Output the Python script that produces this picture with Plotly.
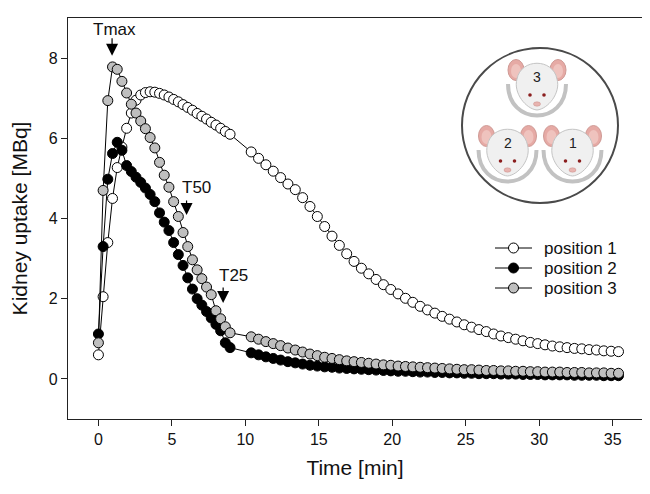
import plotly.graph_objects as go

# frame times [min]
time = [0, 0.32, 0.64, 0.96, 1.28, 1.6, 1.92, 2.24, 2.56, 2.88, 3.2, 3.52, 3.84, 4.16, 4.48,
        4.8, 5.12, 5.44, 5.76, 6.08, 6.4, 6.72, 7.04, 7.36, 7.68, 8.0, 8.32, 8.64, 8.96,
        10.4, 10.9, 11.4, 11.9, 12.4, 12.9, 13.4, 13.9, 14.4, 14.9, 15.4, 15.9, 16.4, 16.9,
        17.4, 17.9, 18.4, 18.9, 19.4, 19.9, 20.4, 20.9, 21.4, 21.9, 22.4, 22.9, 23.4, 23.9,
        24.4, 24.9, 25.4, 25.9, 26.4, 26.9, 27.4, 27.9, 28.4, 28.9, 29.4, 29.9, 30.4, 30.9,
        31.4, 31.9, 32.4, 32.9, 33.4, 33.9, 34.4, 34.9, 35.4]

# kidney uptake [MBq]
position_1 = [0.6, 2.05, 3.4, 4.5, 5.27, 5.78, 6.25, 6.63, 6.95, 7.08, 7.14, 7.16, 7.15, 7.12, 7.08,
              7.03, 6.97, 6.91, 6.84, 6.77, 6.7, 6.62, 6.55, 6.48, 6.4, 6.33, 6.25, 6.17, 6.1,
              5.66, 5.5, 5.34, 5.18, 5.02, 4.86, 4.72, 4.52, 4.3, 4.05, 3.8, 3.56, 3.33, 3.12,
              2.93, 2.76, 2.62, 2.48, 2.35, 2.23, 2.12, 2.01, 1.91, 1.81, 1.72, 1.64, 1.56, 1.49,
              1.42, 1.35, 1.29, 1.23, 1.18, 1.12, 1.07, 1.03, 0.99, 0.95, 0.91, 0.88, 0.85, 0.82,
              0.8, 0.78, 0.76, 0.75, 0.73, 0.72, 0.7, 0.69, 0.68]
position_2 = [1.12, 3.3, 4.98, 5.62, 5.9, 5.7, 5.32, 5.17, 5.03, 4.9, 4.76, 4.6, 4.42, 4.14, 3.91,
              3.7, 3.4, 3.1, 2.83, 2.52, 2.24, 2.0, 1.84, 1.68, 1.52, 1.36, 1.2, 0.9, 0.78,
              0.65, 0.6, 0.55, 0.51, 0.47, 0.43, 0.4, 0.37, 0.34, 0.32, 0.3, 0.29, 0.27, 0.26,
              0.25, 0.24, 0.23, 0.22, 0.21, 0.2, 0.19, 0.19, 0.18, 0.17, 0.17, 0.16, 0.16, 0.15,
              0.15, 0.14, 0.14, 0.13, 0.13, 0.13, 0.12, 0.12, 0.12, 0.11, 0.11, 0.11, 0.1, 0.1,
              0.1, 0.1, 0.09, 0.09, 0.09, 0.09, 0.08, 0.08, 0.08]
position_3 = [0.9, 4.7, 6.94, 7.78, 7.72, 7.42, 7.13, 6.85, 6.63, 6.43, 6.24, 6.02, 5.76, 5.4, 5.08,
              4.78, 4.42, 4.05, 3.65, 3.3, 2.97, 2.72, 2.5, 2.29, 2.1, 1.7, 1.5, 1.3, 1.15,
              1.05, 0.99, 0.93, 0.88, 0.83, 0.77, 0.72, 0.67, 0.62, 0.58, 0.54, 0.51, 0.48, 0.45,
              0.43, 0.41, 0.39, 0.37, 0.35, 0.34, 0.32, 0.31, 0.3, 0.29, 0.28, 0.27, 0.26, 0.25,
              0.24, 0.23, 0.23, 0.22, 0.21, 0.21, 0.2, 0.2, 0.19, 0.19, 0.18, 0.18, 0.17, 0.17,
              0.17, 0.16, 0.16, 0.16, 0.15, 0.15, 0.15, 0.14, 0.14]

series_names = ['position 1', 'position 2', 'position 3']
series_fill = ['white', 'black', '#bfbfbf']

# Tmax / T50 / T25 arrows (x, arrow tip y)
arrow_labels = ['Tmax', 'T50', 'T25']
arrow_x = [0.93, 6.0, 8.49]
arrow_y = [8.06, 4.09, 1.89]

FONT = 'Liberation Sans, Arial, sans-serif'
# the page body has an 8px margin, so the figure is 8px smaller than the window
W, H = 642, 486
L, R, T, B = 60, 8, 10, 75
PAGE = 8


# page pixel -> paper coords of the plot area
def xp(px):
    return (px - PAGE - L) / (W - L - R)


def yp(py):
    return (H - B - (py - PAGE)) / (H - T - B)


def path(start, curves, close=False):
    s = 'M %.4f,%.4f' % (xp(start[0]), yp(start[1]))
    for c in curves:
        s += ' C ' + ' '.join('%.4f,%.4f' % (xp(a), yp(b)) for a, b in c)
    if close:
        s += ' Z'
    return s


def circle(cx, cy, rx, ry, fill, line, lw=1):
    return dict(type='circle', xref='paper', yref='paper',
                x0=xp(cx - rx), x1=xp(cx + rx), y0=yp(cy + ry), y1=yp(cy - ry),
                fillcolor=fill, line=dict(color=line, width=lw))


def mouse(cx, cy):
    shapes = []
    # ears
    for s in (-1, 1):
        shapes.append(circle(cx + s * 21, cy - 17, 8, 10.5, '#e6aaa5', '#cf9a95'))
        shapes.append(circle(cx + s * 21, cy - 16, 5, 7, '#efc3be', '#efc3be', 0))
    # head
    shapes.append(dict(type='path', xref='paper', yref='paper',
                       path=path((cx - 20, cy - 8),
                                 [[(cx - 16, cy - 29), (cx + 16, cy - 29), (cx + 20, cy - 8)],
                                  [(cx + 24, cy + 6), (cx + 11, cy + 22), (cx, cy + 23)],
                                  [(cx - 11, cy + 22), (cx - 24, cy + 6), (cx - 20, cy - 8)]],
                                 close=True),
                       fillcolor='#f0f0f0', line=dict(color='#c4c4c4', width=1)))
    # eyes and nose
    for s in (-1, 1):
        shapes.append(circle(cx + s * 7, cy + 8, 1.8, 1.8, '#8b1e1e', '#8b1e1e', 0))
    shapes.append(circle(cx, cy + 17, 3.5, 2.2, '#e8b4b0', '#c98f8a', 0.5))
    # holder arc
    shapes.append(dict(type='path', xref='paper', yref='paper',
                       path=path((cx - 29, cy - 3),
                                 [[(cx - 29, cy + 39), (cx + 29, cy + 39), (cx + 29, cy - 3)]]),
                       line=dict(color='#c2c2c2', width=4)))
    return shapes


fig = go.Figure()
for name, vals, fill in zip(series_names, [position_1, position_2, position_3], series_fill):
    fig.add_trace(go.Scatter(
        x=time, y=vals, name=name, mode='lines+markers',
        line=dict(color='black', width=1),
        marker=dict(symbol='circle', size=10, color=fill, line=dict(color='black', width=1))
    ))

annotations = []
text_dx = [0.19, 0.69, 0.69]
text_dy = [0.66, 0.69, 0.7]
arrow_len = [-19, -16, -17]
for lab, ax_, ay_, dx, dy, ln in zip(arrow_labels, arrow_x, arrow_y, text_dx, text_dy, arrow_len):
    annotations.append(dict(x=ax_, y=ay_, text='', showarrow=True, ax=0, ay=ln,
                            arrowhead=2, arrowsize=2, arrowwidth=1.2, arrowcolor='black'))
    annotations.append(dict(x=ax_ + dx, y=ay_ + dy, text=lab, showarrow=False,
                            font=dict(family=FONT, size=17, color='#111')))

# mouse inset
shapes = [circle(540, 125.5, 78, 77.5, 'white', '#4a4a4a', 2)]
mice = [(537, 87, '3'), (507.5, 153, '2'), (572.5, 153, '1')]
for cx, cy, num in mice:
    shapes += mouse(cx, cy)
    annotations.append(dict(xref='paper', yref='paper', x=xp(cx), y=yp(cy - 10), text=num,
                            xanchor='center', yanchor='middle', showarrow=False,
                            font=dict(family=FONT, size=14, color='#222')))

# legend drawn by hand to match row spacing
legend_rows = [248, 268, 288]
for name, fill, ry in zip(series_names, series_fill, legend_rows):
    shapes.append(dict(type='line', xref='paper', yref='paper',
                       x0=xp(495), x1=xp(532), y0=yp(ry), y1=yp(ry),
                       line=dict(color='black', width=1)))
    shapes.append(circle(513.5, ry, 5, 5, fill, 'black', 1))
    annotations.append(dict(xref='paper', yref='paper', x=xp(542), y=yp(ry), text=name,
                            xanchor='left', yanchor='middle', showarrow=False,
                            font=dict(family=FONT, size=17, color='#111')))

axis_style = dict(showline=True, linecolor='#222', linewidth=1.3, mirror=True,
                  ticks='outside', ticklen=6, tickwidth=1.2, tickcolor='#222',
                  showgrid=False, zeroline=False, automargin=False,
                  tickfont=dict(family=FONT, size=16, color='#111'))

fig.update_layout(
    width=W, height=H,
    margin=dict(l=L, r=R, t=T, b=B),
    plot_bgcolor='white', paper_bgcolor='white',
    font=dict(family=FONT, color='#111'),
    xaxis=dict(range=[-2.07, 37.0], tickvals=[0, 5, 10, 15, 20, 25, 30, 35],
               title=dict(text='Time [min]', font=dict(family=FONT, size=21), standoff=12),
               **axis_style),
    yaxis=dict(range=[-1, 9], tickvals=[0, 2, 4, 6, 8],
               title=dict(text='Kidney uptake [MBq]', font=dict(family=FONT, size=21), standoff=18),
               **axis_style),
    annotations=annotations,
    shapes=shapes,
    showlegend=False,
)

fig.write_html('out.html')
